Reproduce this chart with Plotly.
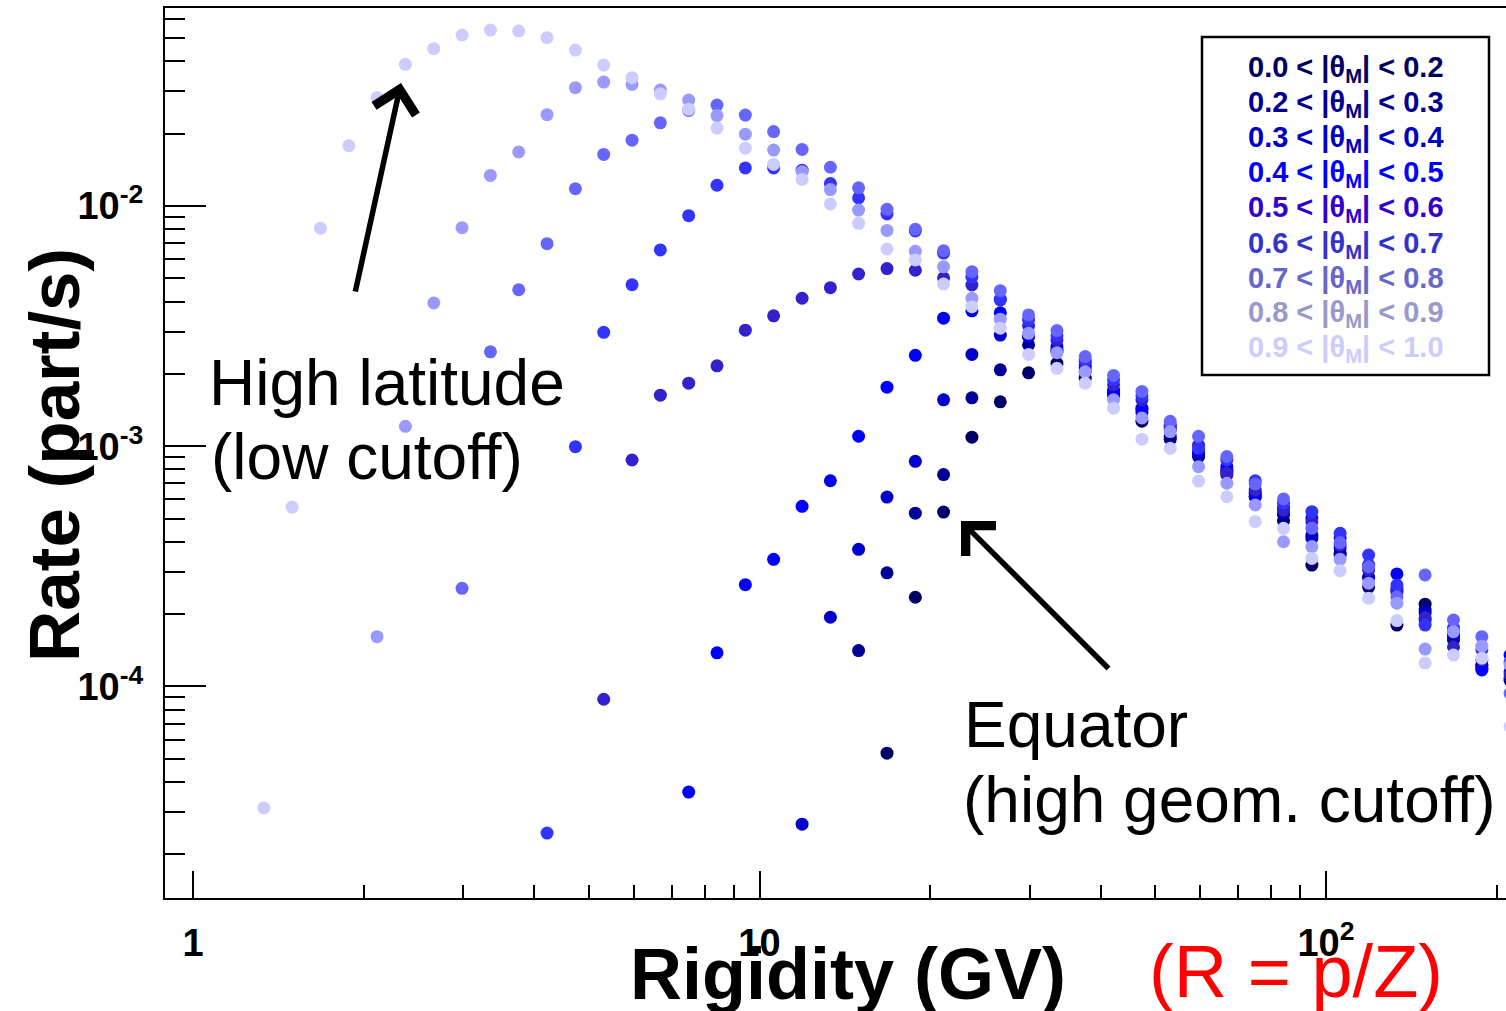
import plotly.graph_objects as go

# ---------------- data ----------------
# bin centres of rigidity (GV)
rigidity = [1.334, 1.496, 1.679, 1.884, 2.113, 2.371, 2.661, 2.985, 3.350, 3.758,
            4.217, 4.732, 5.309, 5.957, 6.683, 7.499, 8.414, 9.441, 10.59, 11.89,
            13.34, 14.96, 16.79, 18.84, 21.13, 23.71, 26.61, 29.85, 33.50, 37.58,
            42.17, 47.32, 53.09, 59.57, 66.83, 74.99, 84.14, 94.41, 105.9, 118.9,
            133.4, 149.6, 167.9, 188.4, 211.3]

labels = ["0.0 < |θ<sub>M</sub>| < 0.2", "0.2 < |θ<sub>M</sub>| < 0.3",
          "0.3 < |θ<sub>M</sub>| < 0.4", "0.4 < |θ<sub>M</sub>| < 0.5",
          "0.5 < |θ<sub>M</sub>| < 0.6", "0.6 < |θ<sub>M</sub>| < 0.7",
          "0.7 < |θ<sub>M</sub>| < 0.8", "0.8 < |θ<sub>M</sub>| < 0.9",
          "0.9 < |θ<sub>M</sub>| < 1.0"]

rate_00_02 = [None] * 22 + [
    5.27e-5, 2.35e-4, 5.32e-4, 1.09e-3, 1.53e-3, 2.02e-3, 2.21e-3, 1.92e-3, 1.63e-3, 1.27e-3,
    1.07e-3, 9.04e-4, 7.59e-4, 6.14e-4, 4.88e-4, 3.20e-4, 3.52e-4, 2.59e-4, 1.80e-4, 2.20e-4,
    1.56e-4, 1.22e-4, 1.06e-4]
rate_02_03 = [None] * 21 + [
    1.41e-4, 2.97e-4, 5.26e-4, 7.62e-4, 1.59e-3, 2.08e-3, 2.64e-3, 2.47e-3, 2.04e-3, 1.71e-3,
    1.38e-3, 1.10e-3, 9.19e-4, 7.81e-4, 6.32e-4, 5.17e-4, 4.27e-4, 3.60e-4, 2.83e-4, 2.47e-4,
    2.08e-4, 1.62e-4, 1.23e-4, 1.08e-4]
rate_03_04 = [None] * 19 + [
    2.67e-5, 1.94e-4, 3.72e-4, 6.14e-4, 8.65e-4, 1.56e-3, 2.41e-3, 2.90e-3, 2.85e-3, 2.51e-3,
    2.12e-3, 1.68e-3, 1.44e-3, 1.17e-3, 9.37e-4, 7.96e-4, 6.45e-4, 5.32e-4, 4.14e-4, 3.77e-4,
    2.86e-4, 2.57e-4, 2.02e-4, 1.64e-4, 1.19e-4, 1.15e-4]
rate_04_05 = [None] * 15 + [
    3.63e-5, 1.38e-4, 2.65e-4, 3.38e-4, 5.62e-4, 7.18e-4, 1.10e-3, 1.76e-3, 2.39e-3, 3.41e-3,
    3.66e-3, 3.59e-3, 2.88e-3, 2.60e-3, 2.18e-3, 1.66e-3, 1.42e-3, 1.21e-3, 9.46e-4, 8.22e-4,
    6.16e-4, 5.53e-4, 5.01e-4, 4.15e-4, 3.20e-4, 2.94e-4, 1.89e-4, 1.69e-4, 1.17e-4, 1.35e-4]
rate_05_06 = [None] * 12 + [
    8.84e-5, 8.76e-4, 1.63e-3, 1.83e-3, 2.16e-3, 3.04e-3, 3.49e-3, 4.13e-3, 4.57e-3, 5.21e-3,
    5.49e-3, 5.40e-3, 5.02e-3, 4.69e-3, 4.06e-3, 3.17e-3, 2.77e-3, 2.24e-3, 1.80e-3, 1.56e-3,
    1.19e-3, 1.01e-3, 7.71e-4, 6.57e-4, 5.43e-4, 4.84e-4, 3.88e-4, 3.05e-4, 2.52e-4, 1.93e-4,
    1.46e-4, 1.29e-4, 1.12e-4]
rate_06_07 = [None] * 10 + [
    2.45e-5, 9.95e-4, 2.98e-3, 4.70e-3, 6.56e-3, 9.11e-3, 1.22e-2, 1.44e-2, 1.44e-2, 1.41e-2,
    1.24e-2, 1.08e-2, 9.26e-3, 7.87e-3, 6.37e-3, 5.06e-3, 4.10e-3, 3.35e-3, 2.88e-3, 2.29e-3,
    1.89e-3, 1.62e-3, 1.23e-3, 9.80e-4, 8.76e-4, 7.18e-4, 5.79e-4, 5.34e-4, 4.34e-4, 3.52e-4,
    2.64e-4, 1.80e-4, 1.75e-4, 1.42e-4, 1.26e-4]
rate_07_08 = [None] * 7 + [
    2.56e-4, 2.47e-3, 4.48e-3, 6.97e-3, 1.18e-2, 1.64e-2, 1.88e-2, 2.22e-2, 2.50e-2, 2.63e-2,
    2.39e-2, 2.04e-2, 1.72e-2, 1.45e-2, 1.19e-2, 9.69e-3, 8.00e-3, 6.51e-3, 5.33e-3, 4.44e-3,
    3.52e-3, 3.03e-3, 2.36e-3, 1.97e-3, 1.69e-3, 1.27e-3, 1.10e-3, 9.06e-4, 6.96e-4, 6.03e-4,
    4.55e-4, 3.97e-4, 3.15e-4, 2.36e-4, 2.91e-4, 1.89e-4, 1.61e-4, 9.36e-5]
rate_08_09 = [None] * 4 + [
    1.61e-4, 1.21e-3, 3.95e-3, 8.12e-3, 1.34e-2, 1.68e-2, 2.40e-2, 3.11e-2, 3.28e-2, 3.21e-2,
    3.04e-2, 2.76e-2, 2.38e-2, 1.99e-2, 1.71e-2, 1.39e-2, 1.17e-2, 9.62e-3, 7.91e-3, 6.48e-3,
    5.59e-3, 4.13e-3, 3.38e-3, 2.95e-3, 2.45e-3, 2.04e-3, 1.56e-3, 1.31e-3, 1.15e-3, 8.22e-4,
    7.01e-4, 5.69e-4, 4.00e-4, 3.82e-4, 3.38e-4, 2.69e-4, 2.22e-4, 1.43e-4, 1.69e-4, 1.47e-4,
    1.23e-4]
rate_09_10 = [
    3.12e-5, 5.58e-4, 8.08e-3, 1.78e-2, 2.83e-2, 3.89e-2, 4.52e-2, 5.15e-2, 5.40e-2, 5.35e-2,
    5.02e-2, 4.46e-2, 3.86e-2, 3.42e-2, 2.93e-2, 2.53e-2, 2.11e-2, 1.74e-2, 1.49e-2, 1.29e-2,
    1.02e-2, 8.47e-3, 6.62e-3, 5.96e-3, 4.73e-3, 3.81e-3, 3.10e-3, 2.41e-3, 2.11e-3, 1.83e-3,
    1.44e-3, 1.07e-3, 9.80e-4, 7.16e-4, 6.16e-4, 4.85e-4, 4.55e-4, 3.41e-4, 3.03e-4, 2.33e-4,
    1.88e-4, 1.25e-4, 1.35e-4, 1.31e-4, 6.80e-5]

series = [rate_00_02, rate_02_03, rate_03_04, rate_04_05, rate_05_06,
          rate_06_07, rate_07_08, rate_08_09, rate_09_10]
marker_colors = ["#000066", "#000099", "#0000cc", "#0000ff", "#3322cc",
                 "#3333ff", "#6666ff", "#9999ff", "#ccccff"]
text_colors = ["#000060", "#000090", "#0000c0", "#0000ff", "#3300cc",
               "#3333cc", "#6666cc", "#9999cc", "#ccccff"]

x_tickvals = [1, 10, 100]
x_ticktext = ["<b>1</b>", "<b>10</b>", "<b>10<sup>2</sup></b>"]
x_minor = [2, 3, 4, 5, 6, 7, 8, 9, 20, 30, 40, 50, 60, 70, 80, 90, 200]
y_tickvals = [1e-4, 1e-3, 1e-2]
y_ticktext = ["<b>10<sup>-4</sup></b>", "<b>10<sup>-3</sup></b>", "<b>10<sup>-2</sup></b>"]
y_minor = [2e-5, 3e-5, 4e-5, 5e-5, 6e-5, 7e-5, 8e-5, 9e-5,
           2e-4, 3e-4, 4e-4, 5e-4, 6e-4, 7e-4, 8e-4, 9e-4,
           2e-3, 3e-3, 4e-3, 5e-3, 6e-3, 7e-3, 8e-3, 9e-3,
           2e-2, 3e-2, 4e-2, 5e-2, 6e-2]

# ---------------- layout helpers ----------------
W, H = 1506, 1011
L, R, T, B = 165, 1506, 8, 898


def px(xp):
    return (xp - L) / (R - L)


def py(yp):
    return (B - yp) / (B - T)


fig = go.Figure()
for vals, col, lab in zip(series, marker_colors, labels):
    fig.add_trace(go.Scatter(
        x=rigidity, y=vals, mode="markers", name=lab, showlegend=False,
        marker=dict(color=col, size=13, line=dict(width=0)),
        cliponaxis=True))

SANS = "Liberation Sans"

annotations = []
# legend (coloured text)
legend_y = [69, 104, 139, 174, 209, 245, 280, 314, 349]
for lab, col, yy in zip(labels, text_colors, legend_y):
    annotations.append(dict(x=px(1346), y=py(yy), xref="paper", yref="paper",
                            text="<b>" + lab + "</b>", showarrow=False,
                            xanchor="center", yanchor="middle",
                            font=dict(family=SANS, size=29, color=col)))

# texts
annotations += [
    dict(x=px(207), y=py(383), text="High latitude", xanchor="left"),
    dict(x=px(209), y=py(457), text="(low cutoff)", xanchor="left"),
    dict(x=px(962), y=py(725), text="Equator", xanchor="left"),
    dict(x=px(961), y=py(800), text="(high geom. cutoff)", xanchor="left"),
]
for a in annotations[-4:]:
    a.update(xref="paper", yref="paper", showarrow=False, yanchor="middle",
             font=dict(family=SANS, size=64, color="black"))

annotations += [
    dict(x=px(848), y=py(974), xref="paper", yref="paper", text="<b>Rigidity (GV)</b>",
         showarrow=False, xanchor="center", yanchor="middle",
         font=dict(family=SANS, size=72, color="black")),
    dict(x=px(1296), y=py(971), xref="paper", yref="paper", text="(R = p/Z)",
         showarrow=False, xanchor="center", yanchor="middle",
         font=dict(family=SANS, size=74, color="red")),
    dict(x=px(54), y=py(455), xref="paper", yref="paper", text="<b>Rate (part/s)</b>",
         showarrow=False, xanchor="center", yanchor="middle", textangle=-90,
         font=dict(family=SANS, size=71, color="black")),
    # arrows
    dict(x=px(401), y=py(83), xref="paper", yref="paper", text="", showarrow=True,
         arrowhead=4, arrowsize=1.5, arrowwidth=5.5, arrowcolor="black",
         ax=-46, ay=210, standoff=0),
    dict(x=px(961), y=py(521), xref="paper", yref="paper", text="", showarrow=True,
         arrowhead=4, arrowsize=1.5, arrowwidth=5.5, arrowcolor="black",
         ax=149, ay=149, standoff=0),
]

fig.update_layout(
    width=W, height=H,
    margin=dict(l=L, r=W - R, t=T, b=H - B, pad=0),
    paper_bgcolor="white", plot_bgcolor="white",
    showlegend=False,
    annotations=annotations,
    shapes=[dict(type="rect", xref="paper", yref="paper",
                 x0=px(1202), x1=px(1489), y0=py(375), y1=py(37),
                 line=dict(color="black", width=2.5), fillcolor="white", layer="above")],
)

fig.update_xaxes(
    type="log", range=[-0.0494, 2.3177], showgrid=False, zeroline=False,
    showline=True, linecolor="black", linewidth=2, mirror=True,
    ticks="inside", ticklen=27, tickwidth=2, tickcolor="black",
    tickmode="array", tickvals=x_tickvals, ticktext=x_ticktext,
    tickfont=dict(family=SANS, size=38, color="black"),
    ticklabelstandoff=10,
    minor=dict(tickmode="array", tickvals=x_minor, ticks="inside", ticklen=13,
               tickwidth=2, tickcolor="black", showgrid=False),
)
fig.update_yaxes(
    type="log", range=[-4.881, -1.1757], showgrid=False, zeroline=False,
    showline=True, linecolor="black", linewidth=2, mirror=False,
    ticks="inside", ticklen=41, tickwidth=2, tickcolor="black",
    tickmode="array", tickvals=y_tickvals, ticktext=y_ticktext,
    tickfont=dict(family=SANS, size=38, color="black"),
    ticklabelstandoff=12,
    minor=dict(tickmode="array", tickvals=y_minor, ticks="inside", ticklen=20,
               tickwidth=2, tickcolor="black", showgrid=False),
)

fig.write_html("out.html")
